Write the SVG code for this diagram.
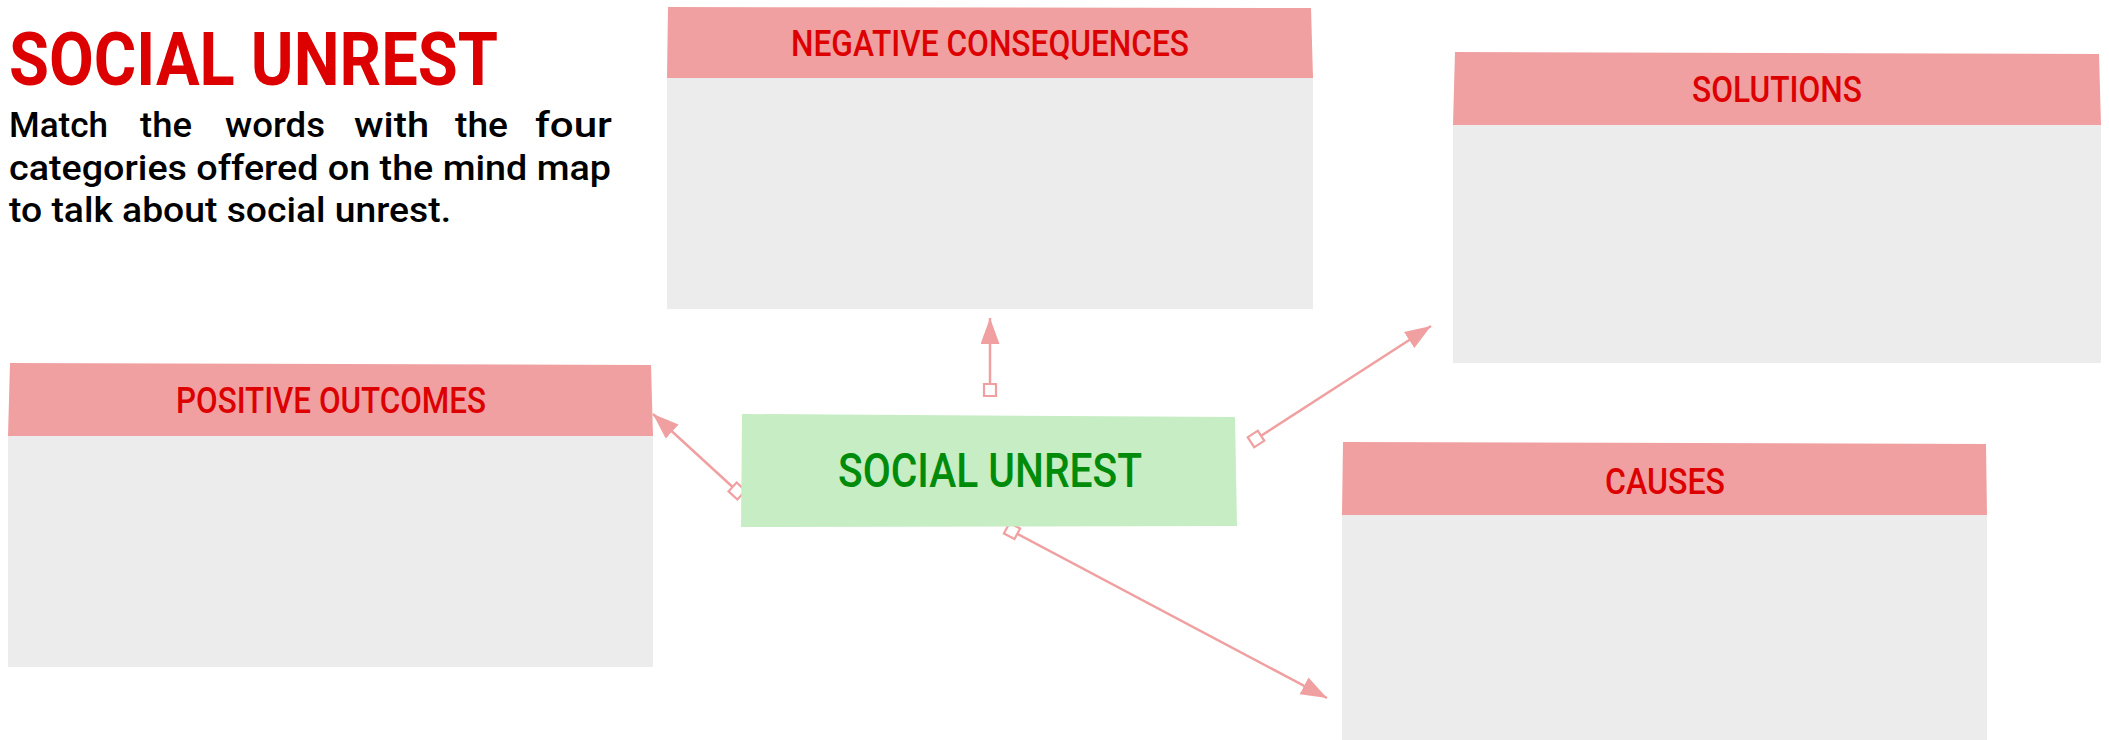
<svg xmlns="http://www.w3.org/2000/svg" width="2109" height="740" viewBox="0 0 2109 740">
<style>
.hdr{fill:#F0A0A0}
.body{fill:#ECECEC}
.lbl{font-family:Roboto,"Liberation Sans",sans-serif;font-size:36px;font-weight:500;fill:#DD0000;text-anchor:middle}
.con{stroke:#F0A0A0;stroke-width:2.5;fill:none;marker-start:url(#sq);marker-end:url(#arr)}
.para{font-family:Roboto,"Liberation Sans",sans-serif;font-size:35.8px;font-weight:500;fill:#000}
</style>
<defs>
<marker id="arr" markerUnits="userSpaceOnUse" markerWidth="28" markerHeight="20" refX="26" refY="9.5" orient="auto" viewBox="0 0 28 20">
<path d="M0,0 L26,9.5 L0,19 z" fill="#F0A0A0"/>
</marker>
<marker id="sq" markerUnits="userSpaceOnUse" markerWidth="16" markerHeight="16" refX="8" refY="8" orient="auto" viewBox="0 0 16 16">
<rect x="2" y="2" width="12" height="12" fill="#fff" stroke="#F0A0A0" stroke-width="2.2"/>
</marker>
</defs>
<rect width="2109" height="740" fill="#fff"/>
<g id="title">
<text x="9" y="85" font-family="Roboto,'Liberation Sans',sans-serif" font-size="75" font-weight="700" fill="#DD0000" textLength="489" lengthAdjust="spacingAndGlyphs">SOCIAL UNREST</text>
<text class="para" y="137"><tspan x="9" textLength="99" lengthAdjust="spacingAndGlyphs">Match</tspan><tspan x="140" textLength="52" lengthAdjust="spacingAndGlyphs">the</tspan><tspan x="225" textLength="100" lengthAdjust="spacingAndGlyphs">words</tspan><tspan x="354" textLength="75" lengthAdjust="spacingAndGlyphs">with</tspan><tspan x="455" textLength="53" lengthAdjust="spacingAndGlyphs">the</tspan><tspan x="535" textLength="77" lengthAdjust="spacingAndGlyphs">four</tspan></text>
<text class="para" x="9" y="179.5" textLength="602" lengthAdjust="spacingAndGlyphs">categories offered on the mind map</text>
<text class="para" x="9" y="222" textLength="442" lengthAdjust="spacingAndGlyphs">to talk about social unrest.</text>
</g>
<g id="connectors">
<path class="con" d="M990,390 L990,318"/>
<path class="con" d="M1256,439 L1431,326"/>
<path class="con" d="M737,491 L653,414"/>
<path class="con" d="M1012,531 L1327,698"/>
</g>
<g id="negative">
<rect class="body" x="667" y="78" width="646" height="231"/>
<polygon class="hdr" points="668,7 1311,8 1313,78 667,78"/>
<text class="lbl" x="990" y="56" textLength="398" lengthAdjust="spacingAndGlyphs">NEGATIVE CONSEQUENCES</text>
</g>
<g id="solutions">
<rect class="body" x="1453" y="125" width="648" height="238"/>
<polygon class="hdr" points="1455,52 2099,54 2101,125 1453,125"/>
<text class="lbl" x="1777" y="102" textLength="170" lengthAdjust="spacingAndGlyphs">SOLUTIONS</text>
</g>
<g id="positive">
<rect class="body" x="8" y="436" width="645" height="231"/>
<polygon class="hdr" points="10,363 651,365 653,436 8,436"/>
<text class="lbl" x="331" y="413" textLength="310" lengthAdjust="spacingAndGlyphs">POSITIVE OUTCOMES</text>
</g>
<g id="causes">
<rect class="body" x="1342" y="515" width="645" height="225"/>
<polygon class="hdr" points="1343,442 1986,444 1987,515 1342,515"/>
<text class="lbl" x="1665" y="494" textLength="120" lengthAdjust="spacingAndGlyphs">CAUSES</text>
</g>
<g id="center">
<polygon points="742,414 1235,417 1237,526 741,527" fill="#C6EDC3"/>
<text x="990" y="487" font-family="Roboto,'Liberation Sans',sans-serif" font-size="48" font-weight="500" fill="#008C0A" text-anchor="middle" textLength="304" lengthAdjust="spacingAndGlyphs">SOCIAL UNREST</text>
</g>
</svg>
